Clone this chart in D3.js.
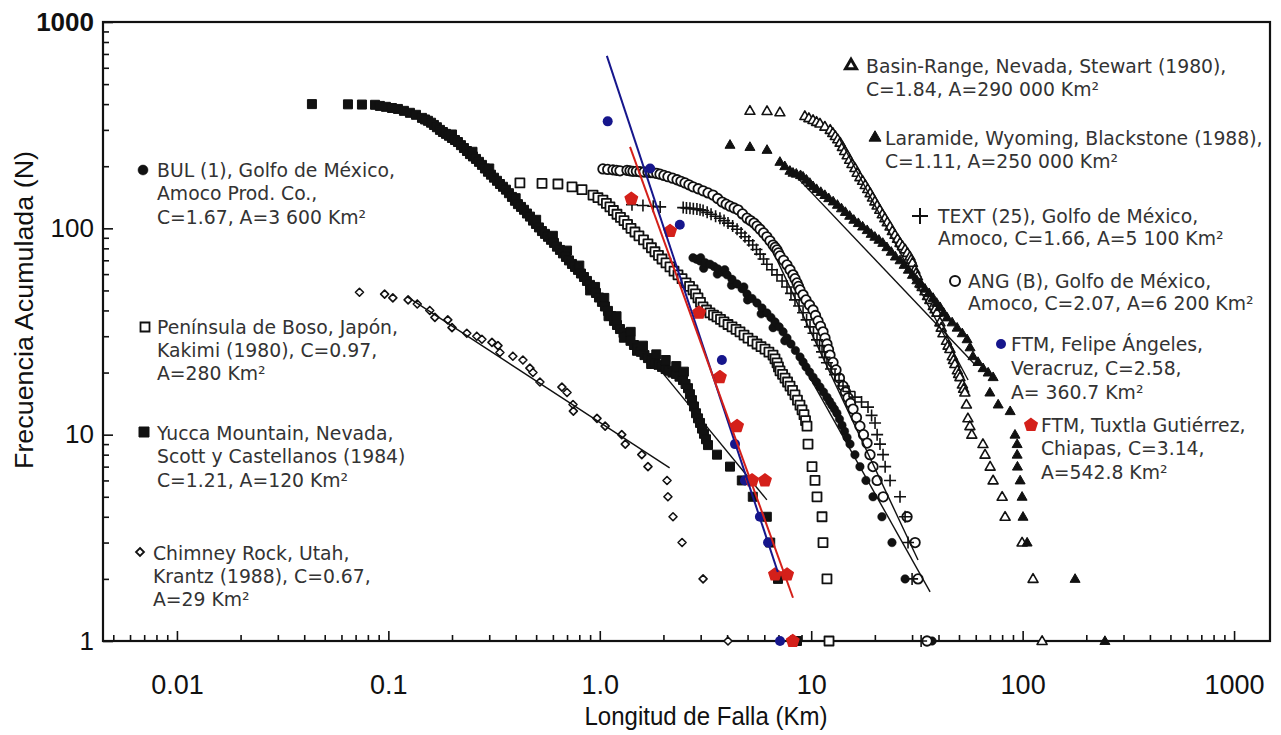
<!DOCTYPE html>
<html>
<head>
<meta charset="utf-8">
<script src="https://cdn.jsdelivr.net/npm/d3@7"></script>
<style>
  body { margin: 0; background: #fff; }
  svg { display: block; }
  .tick text { font-family: "Liberation Sans", Arial, sans-serif; fill: #111; }
  .leg { font-family: "DejaVu Sans", Verdana, sans-serif; font-size: 18.8px; fill: #333; }
</style>
</head>
<body>
<svg id="chart" width="1281" height="735"></svg>
<script>
// ---- datos: [longitud (km), N acumulada] ----
var chimney = [[0.073,49],[0.096,48],[0.105,46],[0.124,45],[0.137,43],[0.157,40],[0.166,37],[0.191,36],[0.200,33],[0.235,31],[0.262,30],[0.277,29],[0.309,28],[0.330,27],[0.337,25],[0.388,24],[0.433,23],[0.467,21],[0.483,20],[0.521,18],[0.662,17],[0.700,16],[0.747,14],[0.75,13],[0.97,12],[1.06,11],[1.27,10],[1.32,9],[1.58,8],[1.69,7],[2.08,6],[2.10,5],[2.22,4],[2.45,3],[3.08,2],[4.04,1]];

var yucca = [[0.0435,400],[0.0644,399],[0.075,398],[0.0865,397],[0.0912,392],[0.0974,388],[0.104,383],[0.111,379],[0.1185,371],[0.1265,363],[0.1351,355],[0.1442,343],[0.1492,337],[0.1539,332],[0.1592,325],[0.1643,317],[0.1697,309],[0.1754,300],[0.1812,293],[0.1873,287],[0.1935,281],[0.1999,274],[0.2,285],[0.2066,268],[0.2134,262],[0.2205,253],[0.2278,245],[0.2354,237],[0.2432,229],[0.25,235],[0.2513,223],[0.2597,217],[0.2683,210],[0.2772,203],[0.2864,195],[0.2959,188],[0.3,195],[0.3057,182],[0.3159,176],[0.3265,170],[0.3372,164],[0.3484,159],[0.360,154],[0.3719,148],[0.3843,142],[0.397,136],[0.4,140],[0.4102,131],[0.4239,127],[0.438,123],[0.4525,118],[0.4675,114],[0.4832,109],[0.4991,105],[0.5,110],[0.5157,101],[0.5328,97],[0.5505,94],[0.5688,91],[0.5877,88],[0.6,92],[0.6072,85],[0.6273,81.5],[0.6481,78.6],[0.6697,75.6],[0.7,78],[0.6919,72.7],[0.7149,69.9],[0.7387,67.2],[0.7633,65],[0.7886,62.9],[0.8,66],[0.8148,60.4],[0.8418,58.1],[0.8698,55.6],[0.8988,53.2],[0.9,50],[0.9286,50.8],[0.95,52],[0.9594,48.6],[0.9912,46.2],[1.024,44],[1.05,46],[1.058,41.8],[1.093,39.8],[1.1,37.5],[1.129,37.6],[1.167,35.6],[1.2,37.5],[1.206,34],[1.246,32.5],[1.295,31.1],[1.3,29.5],[1.345,29.8],[1.397,28.5],[1.4,31.5],[1.451,27.2],[1.5,25.5],[1.507,26.2],[1.566,25.2],[1.6,27],[1.627,24.3],[1.69,23.5],[1.75,22],[1.757,22.9],[1.824,22.3],[1.85,24.5],[1.896,21.8],[1.969,21.3],[2.047,20.8],[2.05,23],[2.125,20.4],[2.207,20],[2.293,19.7],[2.3,21.5],[2.382,19.1],[2.475,18.4],[2.5,20.2],[2.545,17.6],[2.614,16.8],[2.67,15.7],[2.73,14.7],[2.79,13.7],[2.852,12.7],[2.915,12],[2.979,11.4],[3.045,10.7],[3.111,10.1],[3.18,9.5],[3.25,8.9],[3.584,8],[4.13,7],[4.696,6],[5.293,5],[6.166,4],[6.4,3],[6.966,2],[8.566,1]];

var boso = [[0.419,166],[0.533,165],[0.634,164],[0.739,159],[0.824,154],[0.929,145],[0.98,141],[1.035,137],[1.075,132],[1.117,127],[1.16,122],[1.206,117],[1.253,113],[1.302,109],[1.353,104.5],[1.405,100],[1.467,96],[1.532,92],[1.61,88],[1.69,84],[1.755,80.5],[1.824,77],[1.895,74],[1.969,71],[2.057,68],[2.148,65],[2.245,62],[2.344,59.5],[2.45,57],[2.557,54.4],[2.658,52.3],[2.76,50.3],[2.836,48.1],[2.914,46],[2.995,43.8],[3.078,41.6],[3.197,40.2],[3.321,38.9],[3.45,38],[3.584,37.2],[3.724,36.2],[3.868,35.2],[4.04,34.2],[4.221,33.3],[4.41,32.4],[4.605,31.5],[4.81,30.4],[5.024,29.4],[5.28,28.4],[5.541,27.5],[5.79,26.7],[6.045,26],[6.31,25.1],[6.597,24.3],[6.74,23.3],[6.891,22.3],[7.0,21.3],[7.12,20.4],[7.32,19.6],[7.518,18.8],[7.73,18],[7.94,17.2],[8.16,16.4],[8.38,15.6],[8.61,14.7],[8.85,13.9],[9.05,13.2],[9.246,12.5],[9.4,11.7],[9.552,11],[9.658,9],[10.09,7],[10.42,6],[10.65,5],[11.25,4],[11.37,3],[11.87,2],[12.14,1]];

var bul = [[2.76,72],[2.87,70.8],[2.98,69.5],[3.0,72],[3.1,64],[3.15,68.2],[3.32,67],[3.47,65.3],[3.6,60],[3.62,63.6],[3.81,61.5],[3.9,63],[4.0,59.5],[4.2,53],[4.22,56.6],[4.46,53.8],[4.71,51],[4.8,52],[4.97,48.1],[5.0,45],[5.25,45.7],[5.54,43.5],[5.8,38.5],[5.85,41.1],[6.17,38.9],[6.45,37],[6.6,33],[6.74,35.2],[7.05,33.3],[7.36,31.5],[7.5,28.5],[7.68,29.4],[8.02,27.5],[8.42,25.6],[8.85,23.8],[9.15,22.5],[9.45,21.3],[9.82,20.1],[10.2,19],[10.6,18],[11.0,17],[11.43,16.1],[11.87,15.2],[12.2,14.5],[12.53,13.9],[12.87,13.3],[13.23,12.7],[13.6,11.9],[13.98,11.1],[14.37,10.4],[14.77,9.7],[15.26,9],[16.1,8],[17.0,7],[18.15,6],[19.6,5],[21.6,4],[24.1,3],[27.8,2],[37.3,1]];

var ang = [[1.035,194],[1.09,193],[1.154,192],[1.2,191],[1.246,190],[1.345,191],[1.39,190],[1.436,189],[1.49,189],[1.549,188],[1.62,187.5],[1.69,187],[1.74,186.5],[1.785,186],[1.86,184.5],[1.927,183],[2.01,180.5],[2.10,178],[2.21,175],[2.32,172],[2.42,169],[2.53,166],[2.64,162.5],[2.76,159],[2.92,155.5],[3.08,152],[3.25,148.5],[3.43,145],[3.61,139.5],[3.79,134],[3.96,131],[4.13,128],[4.32,125.5],[4.51,123],[4.73,117.5],[4.97,112],[5.16,109],[5.36,106],[5.54,102.5],[5.73,99],[5.95,95],[6.17,91],[6.38,87],[6.60,83],[6.75,80.8],[6.89,78.6],[7.0,76],[7.12,73.5],[7.4,70],[7.68,66.5],[7.94,63],[8.20,59.5],[8.38,57],[8.57,54.4],[8.71,52.3],[8.85,50.3],[9.15,47.6],[9.45,45],[9.82,42.5],[10.2,40.2],[10.48,37.8],[10.77,35.6],[11.07,33.5],[11.37,31.5],[11.62,29.4],[11.87,27.5],[12.07,25.9],[12.27,24.3],[12.68,22.4],[13.1,20.6],[13.6,18.8],[14.14,17.2],[14.53,16.1],[14.93,15.1],[15.35,14.2],[15.77,13.3],[16.37,12.1],[17.0,11],[17.67,10],[18.37,9.1],[18.97,8],[19.6,7],[20.5,6],[21.9,5],[28.4,4],[31.0,3],[32.0,2],[35.3,1]];

var textSer = [[1.42,130],[1.60,129],[1.79,128],[1.93,127],[2.48,126],[2.57,125.5],[2.67,125],[2.77,124.5],[2.88,124],[2.98,123],[3.08,122],[3.22,119.5],[3.36,117],[3.53,114.5],[3.70,112],[3.87,109],[4.04,106],[4.25,102.5],[4.46,99],[4.66,95],[4.86,91],[5.07,87],[5.29,83],[5.51,79],[5.73,75],[5.95,71],[6.17,67],[6.52,63],[6.89,59.5],[7.28,55.6],[7.68,52],[8.02,48.4],[8.38,45],[8.76,42],[9.15,39],[9.51,36],[9.87,33.3],[10.25,31],[10.65,28.8],[10.95,27],[11.25,25.2],[11.56,23.7],[11.87,22.3],[12.4,20.8],[12.96,19.5],[13.54,18.3],[14.14,17.2],[15.1,16.2],[16.1,15.2],[17.3,14.4],[18.56,13.6],[19.3,12.4],[20.04,11.4],[20.5,10],[21.15,9],[21.86,8],[22.37,7],[23.6,6],[26.3,5],[27.8,4],[28.7,3],[30.0,2],[33.1,1]];

var basin = [[5.13,371],[6.18,370],[7.11,365],[9.33,350],[9.75,342],[10.2,335],[10.6,328],[11.0,322],[11.6,311],[12.3,300],[12.65,290],[13.0,280],[13.35,270],[13.7,260],[14.05,248],[14.4,237],[14.8,226],[15.2,215],[15.6,205],[16.1,196],[16.5,186],[17.0,177],[17.5,170],[18.0,162],[18.5,155],[19.0,148],[19.5,141],[20.0,135],[20.5,129],[21.1,123],[21.7,117],[22.3,112],[22.9,107],[23.6,102],[24.2,97],[24.9,93],[25.6,89],[26.3,85],[27.0,82],[27.8,79],[28.5,76],[29.3,73],[29.7,70.5],[30.1,68],[30.9,63],[31.3,60.5],[31.8,58.5],[32.7,54],[33.5,52],[34.5,49.5],[35.5,47],[36.4,45],[37.8,42],[38.5,40.5],[39.3,39],[40.6,35],[41.2,33],[42,31],[43.6,28.5],[44.4,27],[45.3,26],[46.5,24],[47.1,23],[47.8,22],[49.1,20.5],[49.8,19.7],[50.5,19],[51.9,17.5],[52.6,16.7],[53.3,16],[54.2,14],[55.1,12],[56.3,11],[57.5,10],[64.9,9],[66.4,8],[70.2,7],[72.5,6],[80,5],[82.6,4],[99.4,3],[112,2],[123.6,1]];

var laramide = [[4.13,254],[5.13,248],[6.18,240],[7.11,210],[7.5,200],[7.93,190],[8.2,186],[8.5,184],[8.9,181],[9.15,178],[9.5,172],[9.85,166],[10.2,160],[10.6,155],[11.1,150],[11.6,145],[12.1,140],[12.7,135],[13.3,130],[13.9,125],[14.5,120],[15.2,115],[15.9,110],[16.7,106],[17.5,102],[18.4,98],[19.2,94],[20.0,91],[20.9,88],[21.8,85],[22.8,81],[23.9,77],[25.0,73],[26.3,70],[27.5,66.5],[28.8,63],[30.1,59.5],[31.6,56],[33.0,53.5],[34.5,51],[36.1,48.5],[37.7,46],[39.2,43.5],[40.7,41.5],[42.3,39],[43.9,37],[46.4,35],[49,33],[51.8,31],[54.6,29],[56.4,26.5],[58.2,24],[61.5,22.5],[65,21],[68.7,20],[72.5,19],[70,16],[76.6,14],[87.3,13],[92,10],[94.2,9],[94.2,8],[94.5,7],[97.3,6],[99.4,5],[100.4,4],[105,3],[177,2],[245,1]];

var ftmVer = [[1.09,330],[1.73,195],[2.39,104],[3.78,23],[4.36,9],[4.86,6],[5.72,4],[6.25,3],[7.12,1]];
var ftmChis = [[1.41,139],[2.15,97],[2.95,39],[3.70,19],[4.46,11],[5.25,6],[6.04,6],[6.74,2.1],[7.69,2.1],[8.18,1]];

// rectas de ajuste (extremos)
var fitChimney = [[0.123,46.5],[2.14,6.9]];
var fitYucca = [[1.93,20.6],[6.17,4.83]];
var fitBul = [[7.69,29.8],[36.5,1.73]];
var fitAng = [[6.89,70.3],[32,2.47]];
var fitLaramide = [[7.93,192],[59.6,21.8]];
var fitBasin = [[13.7,268],[55.2,18.4]];
var fitVer = [[1.08,685],[6.95,2.16]];
var fitChis = [[1.39,248],[8.2,1.62]];

var xMajor = [0.01,0.1,1,10,100,1000];
var xLabels = ["0.01","0.1","1.0","10","100","1000"];
var yMajor = [1,10,100,1000];
var yLabels = ["1","10","100","1000"];

var legBul = ["BUL (1), Golfo de México,","Amoco Prod. Co.,","C=1.67, A=3 600 Km²"];
var legBoso = ["Península de Boso, Japón,","Kakimi (1980), C=0.97,","A=280 Km²"];
var legYucca = ["Yucca Mountain, Nevada,","Scott y Castellanos (1984)","C=1.21, A=120 Km²"];
var legChimney = ["Chimney Rock, Utah,","Krantz (1988), C=0.67,","A=29 Km²"];
var legBasin = ["Basin-Range, Nevada, Stewart (1980),","C=1.84, A=290 000 Km²"];
var legLaramide = ["Laramide, Wyoming, Blackstone (1988),","C=1.11, A=250 000 Km²"];
var legText = ["TEXT (25), Golfo de México,","Amoco, C=1.66, A=5 100 Km²"];
var legAng = ["ANG (B), Golfo de México,","Amoco, C=2.07, A=6 200 Km²"];
var legVer = ["FTM, Felipe Ángeles,","Veracruz, C=2.58,","A= 360.7  Km²"];
var legChis = ["FTM, Tuxtla Gutiérrez,","Chiapas, C=3.14,","A=542.8 Km²"];

var svg = d3.select("#chart");
var marge = {top:22, bottom:641, left:103, right:1270};

var x = d3.scaleLog().domain([0.00447, 1479]).range([marge.left, marge.right]);
var y = d3.scaleLog().domain([1, 1000]).range([marge.bottom, marge.top]);

// ticks menores
var xMinor = [];
[0.001,0.01,0.1,1,10,100].forEach(function(b){ for(var k=2;k<=9;k++){ var v=b*k; if(v>x.domain()[0] && v<x.domain()[1]) xMinor.push(v);} });
var yMinor = [];
[1,10,100].forEach(function(b){ for(var k=2;k<=9;k++) yMinor.push(b*k); });

var gx = svg.append("g").attr("transform","translate(0,"+marge.bottom+")");
gx.call(d3.axisBottom(x).tickValues(xMinor).tickSize(-6).tickFormat(""));
gx.append("g").call(d3.axisBottom(x).tickValues(xMajor).tickSize(-10).tickPadding(34)
    .tickFormat(function(d,i){ return xLabels[i]; }));
var gy = svg.append("g").attr("transform","translate("+marge.left+",0)");
gy.call(d3.axisLeft(y).tickValues(yMinor).tickSize(-6).tickFormat(""));
gy.append("g").call(d3.axisLeft(y).tickValues(yMajor).tickSize(-10).tickPadding(9)
    .tickFormat(function(d,i){ return yLabels[i]; }));
svg.selectAll(".domain").remove();
svg.selectAll(".tick line").attr("stroke","#111").attr("stroke-width",1.6);
gx.selectAll(".tick text").attr("font-size",27);
gy.selectAll(".tick text").attr("font-size",26).attr("font-weight",function(d){ return d===1000?"bold":null; });

// marco
svg.append("rect").attr("x",marge.left).attr("y",marge.top)
  .attr("width",marge.right-marge.left).attr("height",marge.bottom-marge.top)
  .attr("fill","none").attr("stroke","#111").attr("stroke-width",2.2);

// formas de marcadores
function shape(type, s){
  var h = s/2;
  if(type==="circle") return d3.symbol(d3.symbolCircle, Math.PI*h*h)();
  if(type==="square") return "M"+(-h)+","+(-h)+"h"+s+"v"+s+"h"+(-s)+"Z";
  if(type==="diamond") return "M0,"+(-h)+"L"+h+",0L0,"+h+"L"+(-h)+",0Z";
  if(type==="cross") return "M"+(-h)+",0H"+h+"M0,"+(-h)+"V"+h;
  if(type==="triangle"){ var ht=s*0.866; return "M0,"+(-ht*0.6)+"L"+h+","+(ht*0.4)+"L"+(-h)+","+(ht*0.4)+"Z"; }
  if(type==="pentagon"){
    var p=[]; for(var k=0;k<5;k++){ var a=-Math.PI/2+k*2*Math.PI/5; p.push([h*Math.cos(a),h*Math.sin(a)]); }
    return "M"+p.map(function(q){return q[0].toFixed(2)+","+q[1].toFixed(2);}).join("L")+"Z";
  }
}

function drawSeries(data, type, s, fill, stroke, sw){
  svg.append("g").selectAll("path").data(data).join("path")
    .attr("transform", function(d){ return "translate("+x(d[0])+","+y(d[1])+")"; })
    .attr("d", shape(type, s))
    .attr("fill", fill).attr("stroke", stroke).attr("stroke-width", sw)
    .attr("stroke-linejoin","round");
}

function drawFit(pts, color, w){
  svg.append("line")
    .attr("x1", x(pts[0][0])).attr("y1", y(pts[0][1]))
    .attr("x2", x(pts[1][0])).attr("y2", y(pts[1][1]))
    .attr("stroke", color).attr("stroke-width", w);
}

drawSeries(chimney, "diamond", 8, "#fff", "#111", 1.6);
drawSeries(yucca, "square", 9, "#111", "#111", 1);
drawSeries(boso, "square", 9, "#fff", "#111", 1.8);
drawSeries(bul, "circle", 8.5, "#111", "#111", 0.5);
drawSeries(ang, "circle", 9.5, "#fff", "#111", 1.8);
drawSeries(textSer, "cross", 12, "none", "#111", 1.6);
drawSeries(basin, "triangle", 10, "#fff", "#111", 1.6);
drawSeries(laramide, "triangle", 10, "#111", "#111", 1);

drawFit(fitChimney, "#111", 1.4);
drawFit(fitYucca, "#111", 1.4);
drawFit(fitBul, "#111", 1.4);
drawFit(fitAng, "#111", 1.4);
drawFit(fitLaramide, "#111", 1.4);
drawFit(fitBasin, "#111", 1.4);

drawSeries(ftmVer, "circle", 10, "#16168c", "none", 0);
drawSeries(ftmChis, "pentagon", 13, "#d4201a", "#d4201a", 1.5);
drawFit(fitVer, "#16168c", 2);
drawFit(fitChis, "#d4201a", 2);

// leyendas
function legend(lines, tx, ty, lh, mx, my, type, s, fill, stroke, sw){
  svg.append("path").attr("transform","translate("+mx+","+my+")")
    .attr("d", shape(type, s)).attr("fill", fill).attr("stroke", stroke).attr("stroke-width", sw);
  svg.append("text").attr("class","leg").attr("x",tx).attr("y",ty)
    .selectAll("tspan").data(lines).join("tspan")
    .attr("x",tx).attr("y",function(d,i){ return ty+i*lh; }).attr("dy","0.36em")
    .text(function(d){ return d; });
}
legend(legBul, 157, 170, 23.5, 143, 170, "circle", 10, "#111", "#111", 0.5);
legend(legBoso, 157, 327, 23, 145, 327, "square", 9, "#fff", "#111", 1.8);
legend(legYucca, 157, 433, 23.5, 144, 432, "square", 10, "#111", "#111", 1);
legend(legChimney, 153, 553, 23, 140, 552, "diamond", 8, "#fff", "#111", 1.8);
legend(legBasin, 866, 66, 23, 851, 65, "triangle", 11, "#fff", "#111", 3);
legend(legLaramide, 885, 138, 23, 875, 137, "triangle", 12, "#111", "#111", 1);
legend(legText, 938, 216, 22, 920, 216, "cross", 16, "none", "#111", 2);
legend(legAng, 968, 281, 22, 955, 281, "circle", 10, "#fff", "#111", 2);
legend(legVer, 1011, 344, 24, 1001, 344, "circle", 10, "#16168c", "none", 0);
legend(legChis, 1041, 425, 23.5, 1031, 425, "pentagon", 13, "#d4201a", "#d4201a", 1.5);

// títulos de ejes
svg.append("text").attr("x",706).attr("y",716).attr("dy","0.35em")
  .attr("text-anchor","middle")
  .attr("font-family","'Liberation Sans Narrow','Liberation Sans',Arial,sans-serif")
  .attr("font-size",26).attr("fill","#111")
  .attr("textLength",243).attr("lengthAdjust","spacingAndGlyphs")
  .text("Longitud de Falla (Km)");
svg.append("text").attr("transform","translate(24,310) rotate(-90)").attr("dy","0.35em")
  .attr("text-anchor","middle")
  .attr("font-family","'Liberation Sans Narrow','Liberation Sans',Arial,sans-serif")
  .attr("font-size",26).attr("fill","#111")
  .attr("textLength",318).attr("lengthAdjust","spacingAndGlyphs")
  .text("Frecuencia  Acumulada (N)");
</script>
</body>
</html>
